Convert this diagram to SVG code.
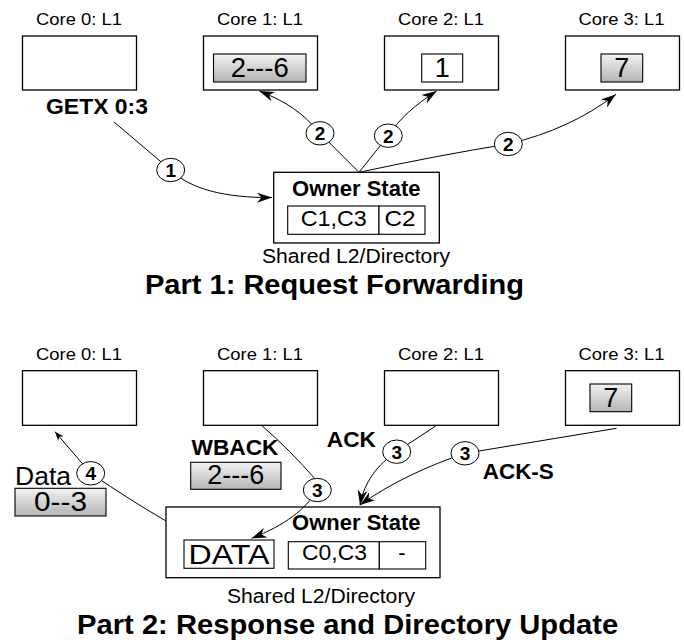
<svg xmlns="http://www.w3.org/2000/svg" width="684" height="642" viewBox="0 0 684 642">
<defs>
<linearGradient id="g" x1="0" y1="0" x2="0" y2="1">
<stop offset="0" stop-color="#f2f2f2"/>
<stop offset="1" stop-color="#b4b4b4"/>
</linearGradient>
<marker id="ah" markerUnits="userSpaceOnUse" markerWidth="16" markerHeight="11" refX="15" refY="5.5" orient="auto">
<path d="M0,0.5 L15,5.5 L0,10.5 L4.5,5.5 Z" fill="#000"/>
</marker>
<marker id="ahs" markerUnits="userSpaceOnUse" markerWidth="10" markerHeight="8" refX="9" refY="3.5" orient="auto">
<path d="M0,0 L9,3.5 L0,7 L2.5,3.5 Z" fill="#000"/>
</marker>
</defs>
<style>
.box{fill:#fff;stroke:#000;stroke-width:1.3}
.cell{fill:#fff;stroke:#000;stroke-width:1.1}
.gray{fill:url(#g);stroke:#000;stroke-width:1.1}
.cn{fill:none;stroke:#000;stroke-width:1}
.badge{fill:#fff;stroke:#000;stroke-width:1}
text{font-family:"Liberation Sans",Arial,Helvetica,sans-serif;fill:#000}
.lbl{font-size:16.5px;text-anchor:middle}
.val{font-size:27px;text-anchor:middle}
.msg{font-size:22.5px;font-weight:bold;text-anchor:middle}
.own{font-size:22px;font-weight:bold;text-anchor:middle}
.cellt{font-size:22px;text-anchor:middle}
.sub{font-size:20px;text-anchor:middle}
.title{font-size:27px;font-weight:bold;text-anchor:middle}
.bn{font-size:19px;font-weight:bold;text-anchor:middle}
</style>

<!-- ===== Part 1 ===== -->
<g id="p1-core0">
<text class="lbl" x="79" y="25" textLength="86" lengthAdjust="spacingAndGlyphs">Core 0: L1</text>
<rect class="box" x="22.5" y="36" width="114" height="54"/>
</g>
<g id="p1-core1">
<text class="lbl" x="260" y="25" textLength="86" lengthAdjust="spacingAndGlyphs">Core 1: L1</text>
<rect class="box" x="203.5" y="36" width="114" height="54"/>
<rect class="gray" x="213.5" y="54" width="92.5" height="28"/>
<text class="val" x="259.7" y="76.7" textLength="58" lengthAdjust="spacingAndGlyphs">2---6</text>
</g>
<g id="p1-core2">
<text class="lbl" x="441" y="25" textLength="86" lengthAdjust="spacingAndGlyphs">Core 2: L1</text>
<rect class="box" x="384.5" y="36" width="114" height="54"/>
<rect class="cell" x="421.7" y="54" width="41" height="28"/>
<text class="val" x="442.2" y="76.7">1</text>
</g>
<g id="p1-core3">
<text class="lbl" x="621.5" y="25" textLength="86" lengthAdjust="spacingAndGlyphs">Core 3: L1</text>
<rect class="box" x="565.5" y="36" width="114" height="54"/>
<rect class="gray" x="601" y="54" width="41.7" height="28"/>
<text class="val" x="621.8" y="76.7">7</text>
</g>
<g id="p1-l2">
<rect class="box" x="273.7" y="172.3" width="165.6" height="70.7"/>
<text class="own" x="356.3" y="196">Owner State</text>
<rect class="cell" x="287.7" y="206" width="91.3" height="28.3"/>
<rect class="cell" x="379" y="206" width="46" height="28.3"/>
<text class="cellt" x="333.8" y="226" textLength="66" lengthAdjust="spacingAndGlyphs">C1,C3</text>
<text class="cellt" x="400" y="226" textLength="31" lengthAdjust="spacingAndGlyphs">C2</text>
<text class="sub" x="356" y="263.3" textLength="188" lengthAdjust="spacingAndGlyphs">Shared L2/Directory</text>
</g>
<text id="p1-getx" class="msg" x="97" y="114.3" textLength="102" lengthAdjust="spacingAndGlyphs">GETX 0:3</text>
<text id="p1-title" class="title" x="334.5" y="294" textLength="379" lengthAdjust="spacingAndGlyphs">Part 1: Request Forwarding</text>

<!-- ===== Part 2 ===== -->
<g id="p2-core0">
<text class="lbl" x="79" y="360" textLength="86" lengthAdjust="spacingAndGlyphs">Core 0: L1</text>
<rect class="box" x="22.5" y="370.7" width="114" height="54.6"/>
</g>
<g id="p2-core1">
<text class="lbl" x="260" y="360" textLength="86" lengthAdjust="spacingAndGlyphs">Core 1: L1</text>
<rect class="box" x="203.5" y="370.7" width="114" height="54.6"/>
</g>
<g id="p2-core2">
<text class="lbl" x="441" y="360" textLength="86" lengthAdjust="spacingAndGlyphs">Core 2: L1</text>
<rect class="box" x="384.5" y="370.7" width="114" height="54.6"/>
</g>
<g id="p2-core3">
<text class="lbl" x="621.5" y="360" textLength="86" lengthAdjust="spacingAndGlyphs">Core 3: L1</text>
<rect class="box" x="565.5" y="370.7" width="114" height="54.6"/>
<rect class="gray" x="590" y="384" width="41.7" height="27.7"/>
<text class="val" x="610.8" y="406.7">7</text>
</g>
<g id="p2-l2">
<rect class="box" x="166" y="507" width="274" height="70.7"/>
<text class="own" x="356.3" y="530">Owner State</text>
<rect class="cell" x="184" y="540" width="90" height="28.3"/>
<text class="val" x="229" y="564" textLength="81" lengthAdjust="spacingAndGlyphs">DATA</text>
<rect class="cell" x="288.3" y="541.7" width="91" height="27.3"/>
<rect class="cell" x="379.3" y="541.7" width="46.4" height="27.3"/>
<text class="cellt" x="334.5" y="559.5" textLength="65" lengthAdjust="spacingAndGlyphs">C0,C3</text>
<text class="cellt" x="402" y="559.5">-</text>
<text class="sub" x="321" y="603.3" textLength="188" lengthAdjust="spacingAndGlyphs">Shared L2/Directory</text>
</g>
<g id="p2-wback">
<text class="msg" x="235" y="455" textLength="87" lengthAdjust="spacingAndGlyphs">WBACK</text>
<rect class="gray" x="190.7" y="462.3" width="90.3" height="27"/>
<text class="val" x="235.8" y="483.5" textLength="57" lengthAdjust="spacingAndGlyphs">2---6</text>
</g>
<g id="p2-data">
<text x="15" y="485" font-size="25" textLength="56" lengthAdjust="spacingAndGlyphs">Data</text>
<rect class="gray" x="15" y="488.3" width="91" height="27.7"/>
<text class="val" x="60.5" y="510.5" textLength="53" lengthAdjust="spacingAndGlyphs">0--3</text>
</g>
<text id="p2-ack" class="msg" x="351.3" y="446.7" textLength="49" lengthAdjust="spacingAndGlyphs">ACK</text>
<text id="p2-acks" class="msg" x="518.3" y="479.3" textLength="71" lengthAdjust="spacingAndGlyphs">ACK-S</text>
<text id="p2-title" class="title" x="347.6" y="634" textLength="541" lengthAdjust="spacingAndGlyphs">Part 2: Response and Directory Update</text>

<!-- ===== Connectors ===== -->
<g id="connectors">
<!-- part 1 -->
<path class="cn" d="M114,122 L170.7,170"/>
<path class="cn" d="M170.7,170 C190,189 225,198 272,197.5" marker-end="url(#ah)"/>
<path class="cn" d="M359,172.3 L320,133.3"/>
<path class="cn" d="M320,133.3 C303,113 287,102 259.3,91" marker-end="url(#ah)"/>
<path class="cn" d="M359,172.3 L388.3,135.7"/>
<path class="cn" d="M388.3,135.7 C400,118 415,105 436.7,91" marker-end="url(#ah)"/>
<path class="cn" d="M359,172.3 Q440,155 508.3,144"/>
<path class="cn" d="M508.3,144 C550,134 585,118 616,94.3" marker-end="url(#ah)"/>
<!-- part 2 -->
<path class="cn" d="M90.7,473.3 L55,431.7" marker-end="url(#ahs)"/>
<path class="cn" d="M90.7,473.3 Q130,500 166,521"/>
<path class="cn" d="M261.7,425.5 Q290,450 316,480"/>
<path class="cn" d="M317.3,490 C305,510 285,525 251.7,538.3" marker-end="url(#ah)"/>
<path class="cn" d="M436.7,425.3 L396.7,451.7"/>
<path class="cn" d="M396.7,451.7 C378,464 364,482 360,505" marker-end="url(#ah)"/>
<path class="cn" d="M616.5,428.3 L465,453.3"/>
<path class="cn" d="M465,453.3 C430,465 392,482 360,505" marker-end="url(#ah)"/>
</g>

<g id="connector-labels">
<g><ellipse class="badge" cx="170.7" cy="170" rx="14" ry="11.7"/><text class="bn" x="170.7" y="176.8">1</text></g>
<g><ellipse class="badge" cx="320" cy="133.3" rx="14" ry="11.7"/><text class="bn" x="320" y="140.1">2</text></g>
<g><ellipse class="badge" cx="388.3" cy="135.7" rx="14" ry="11.7"/><text class="bn" x="388.3" y="142.5">2</text></g>
<g><ellipse class="badge" cx="508.3" cy="144" rx="14" ry="11.7"/><text class="bn" x="508.3" y="150.8">2</text></g>
<g><ellipse class="badge" cx="90.7" cy="473.3" rx="14" ry="11.7"/><text class="bn" x="90.7" y="480.1">4</text></g>
<g><ellipse class="badge" cx="317.3" cy="490" rx="14" ry="11.7"/><text class="bn" x="317.3" y="496.8">3</text></g>
<g><ellipse class="badge" cx="396.7" cy="451.7" rx="14" ry="11.7"/><text class="bn" x="396.7" y="458.5">3</text></g>
<g><ellipse class="badge" cx="465" cy="453.3" rx="14" ry="11.7"/><text class="bn" x="465" y="460.1">3</text></g>
</g>
</svg>
